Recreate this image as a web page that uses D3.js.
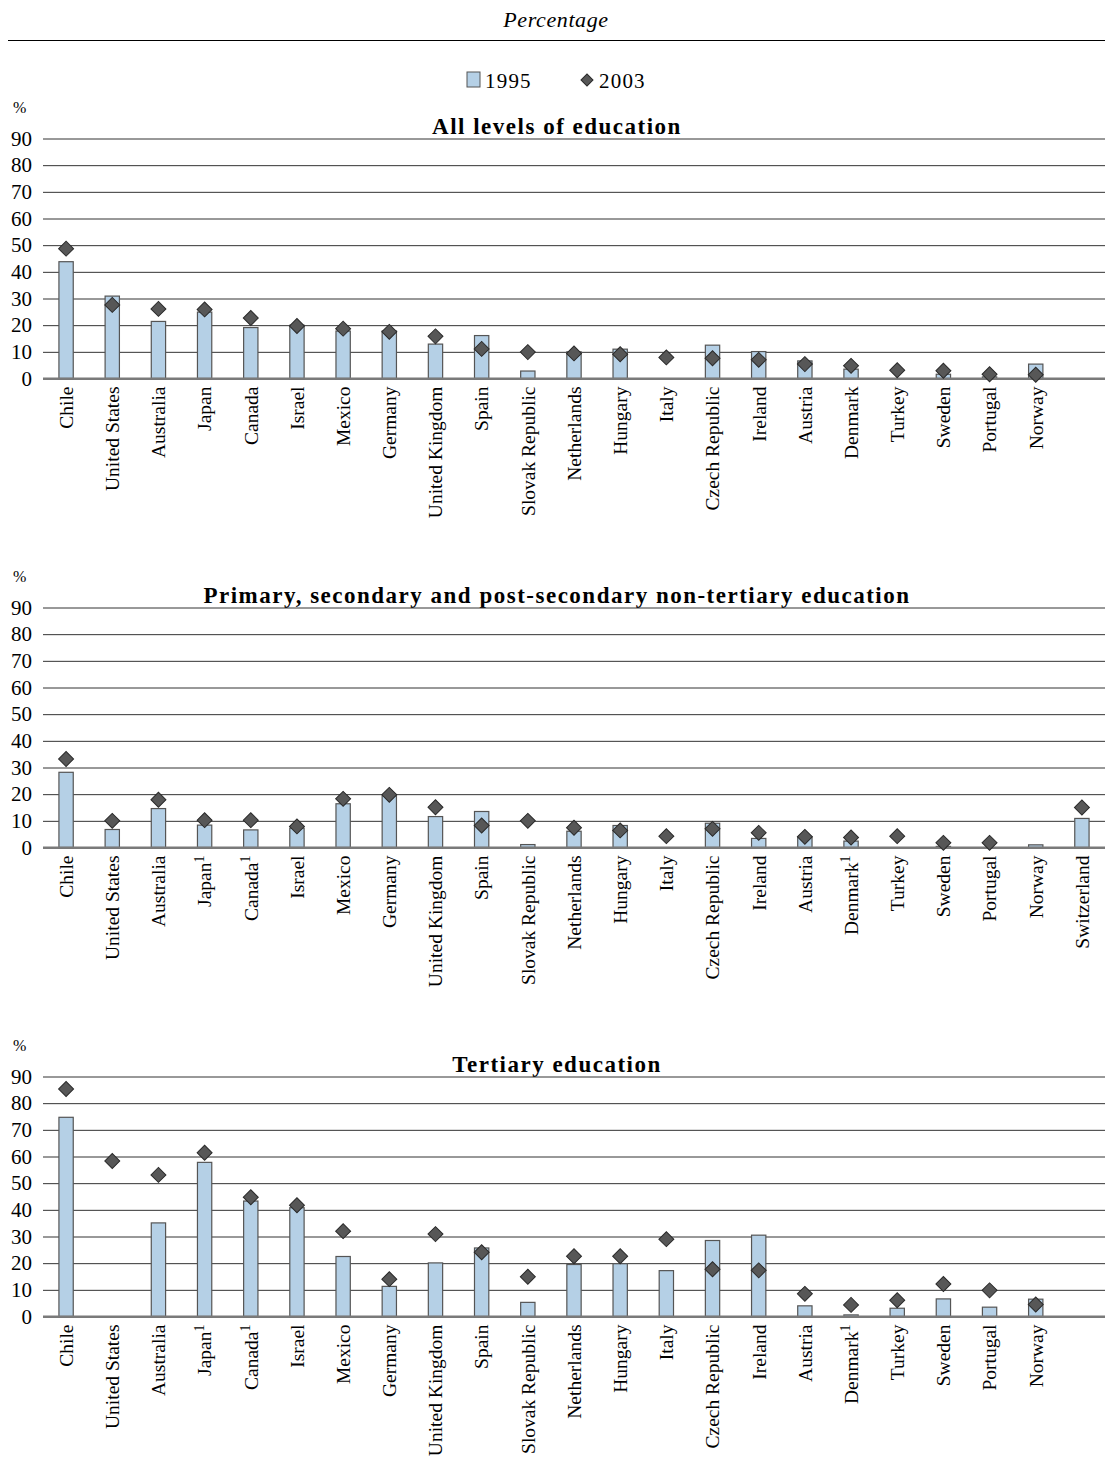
<!DOCTYPE html>
<html>
<head>
<meta charset="utf-8">
<script src="https://cdn.jsdelivr.net/npm/d3@7/dist/d3.min.js"></script>
<style>
  body { margin: 0; background: #fff; }
  svg text { font-family: "Liberation Serif", "DejaVu Serif", serif; fill: #000; }
</style>
</head>
<body>
<svg id="chart" width="1107" height="1481"></svg>
<script>
// ---------- DATA ----------
const categories = ["Chile","United States","Australia","Japan","Canada","Israel","Mexico","Germany",
  "United Kingdom","Spain","Slovak Republic","Netherlands","Hungary","Italy","Czech Republic","Ireland",
  "Austria","Denmark","Turkey","Sweden","Portugal","Norway","Switzerland"];

const panelTitles = ["All levels of education",
  "Primary, secondary and post-secondary non-tertiary education",
  "Tertiary education"];

const yTicks = [0,10,20,30,40,50,60,70,80,90];

const footnoted = [[], ["Japan","Canada","Denmark"], ["Japan","Canada","Denmark"]];

// All levels of education
const all1995 = [43.8,30.9,21.4,24.9,19.1,20.0,17.8,17.8,12.9,16.1,2.8,10.0,11.0,null,12.5,10.1,6.6,3.5,null,1.6,0.6,5.4,null];
const all2003 = [48.7,27.6,26.1,25.9,22.7,19.7,18.7,17.5,15.8,11.1,9.9,9.4,9.1,7.9,7.6,7.0,5.4,4.75,3.1,2.9,1.6,1.4,null];

// Primary, secondary and post-secondary non-tertiary
const sec1995 = [28.2,6.75,14.6,8.4,6.6,7.25,16.4,19.4,11.6,13.5,1.1,6.1,8.25,null,9.1,3.4,3.9,2.4,null,0.4,null,1.0,10.9];
const sec2003 = [33.2,10.0,17.9,10.25,10.25,7.9,18.25,19.75,15.1,8.25,10.0,7.4,6.4,4.25,7.0,5.5,4.0,3.75,4.25,1.75,1.75,null,15.0];

// Tertiary
const ter1995 = [74.7,null,35.1,57.8,43.3,40.8,22.5,11.3,20.1,25.7,5.3,19.5,19.8,17.2,28.5,30.5,4.0,0.6,3.1,6.6,3.5,6.5,null];
const ter2003 = [85.3,58.3,53.1,61.4,44.7,41.7,32.0,14.0,30.9,24.1,14.9,22.6,22.6,29.0,17.7,17.3,8.5,4.35,6.1,12.2,9.8,4.5,null];

const series1995 = [all1995, sec1995, ter1995];
const series2003 = [all2003, sec2003, ter2003];

// ---------- DRAW ----------
const svg = d3.select("#chart");
const barFill = "#b5d0e6", barStroke = "#555", diaFill = "#575757", diaStroke = "#2a2a2a";
const square = d3.symbol(d3.symbolSquare, 112)();

svg.append("text").attr("x", 556).attr("y", 27).attr("text-anchor","middle")
  .style("font-style","italic").style("font-size","22px").style("letter-spacing","0.6px").text("Percentage");
svg.append("line").attr("x1",8).attr("x2",1105).attr("y1",40.5).attr("y2",40.5)
  .attr("stroke","#000").attr("stroke-width",1);

// legend
const lg = svg.append("g");
lg.append("rect").attr("x",467).attr("y",72).attr("width",13).attr("height",15)
  .attr("fill",barFill).attr("stroke",barStroke);
lg.append("text").attr("x",485).attr("y",88).style("font-size","21px").style("letter-spacing","1.2px").text("1995");
lg.append("path").attr("d", d3.symbol(d3.symbolSquare, 72)()).attr("transform","translate(587,80) rotate(45)")
  .attr("fill",diaFill).attr("stroke",diaStroke);
lg.append("text").attr("x",599).attr("y",88).style("font-size","21px").style("letter-spacing","1.2px").text("2003");

const left = 43, right = 1105;
const x = d3.scaleBand().domain(categories).range([left, right]);
const barW = x.bandwidth() * 0.31;
const zeroYs = [378.5, 847.5, 1316.5];

panelTitles.forEach((title, p) => {
  const y0 = zeroYs[p];
  const y = d3.scaleLinear().domain([0, 90]).range([y0, y0 - 240]);
  const g = svg.append("g");

  // % label and title
  g.append("text").attr("x", 13).attr("y", y0 - 266).style("font-size","16px").text("%");
  g.append("text").attr("x", 557).attr("y", y0 - 245).attr("text-anchor","middle")
    .style("font-weight","bold").style("font-size","23px").style("letter-spacing","1.5px").text(title);

  // y axis with gridlines
  const ya = g.append("g").attr("transform", `translate(${left},0)`)
    .call(d3.axisLeft(y).tickValues(yTicks).tickSizeInner(-(right-left)).tickSizeOuter(0).tickPadding(11));
  ya.select(".domain").remove();
  ya.selectAll(".tick line").attr("stroke", d => d === 0 ? "#7a7a7a" : "#333")
    .attr("stroke-width", d => d === 0 ? 2 : 1);
  ya.selectAll(".tick text").style("font-size","21px").style("font-family","Liberation Serif");

  // bars
  const data = categories.map((c, i) => ({c, v95: series1995[p][i], v03: series2003[p][i]}));
  g.selectAll("rect.bar").data(data.filter(d => d.v95 != null)).enter().append("rect")
    .attr("class","bar")
    .attr("x", d => x(d.c) + (x.bandwidth() - barW)/2)
    .attr("width", barW)
    .attr("y", d => y(d.v95))
    .attr("height", d => y(0) - y(d.v95))
    .attr("fill", barFill).attr("stroke", barStroke).attr("stroke-width", 1.2);

  // redraw zero line over bars
  g.append("line").attr("x1", left).attr("x2", right).attr("y1", y(0)).attr("y2", y(0))
    .attr("stroke", "#7a7a7a").attr("stroke-width", 2);

  // diamonds (2003)
  g.selectAll("path.dia").data(data.filter(d => d.v03 != null)).enter().append("path")
    .attr("class","dia").attr("d", square)
    .attr("transform", d => `translate(${x(d.c) + x.bandwidth()/2},${y(d.v03)}) rotate(45)`)
    .attr("fill", diaFill).attr("stroke", diaStroke).attr("stroke-width", 1);

  // x axis labels
  const present = new Set(data.filter(d => d.v95 != null || d.v03 != null).map(d => d.c));
  const xa = g.append("g").attr("transform", `translate(0,${y0})`)
    .call(d3.axisBottom(x).tickSize(0).tickPadding(0));
  xa.select(".domain").remove();
  xa.selectAll(".tick").filter(d => !present.has(d)).remove();
  xa.selectAll(".tick text")
    .attr("transform","rotate(-90)")
    .attr("x", -8).attr("y", 0).attr("dy", "0.35em")
    .attr("text-anchor","end")
    .style("font-size","19.5px").style("font-family","Liberation Serif")
    .each(function(d) {
      if (footnoted[p].includes(d)) {
        const t = d3.select(this);
        t.text(d);
        t.append("tspan").attr("dy","-0.55em").style("font-size","14px").text("1");
      }
    });
});
</script>
</body>
</html>
